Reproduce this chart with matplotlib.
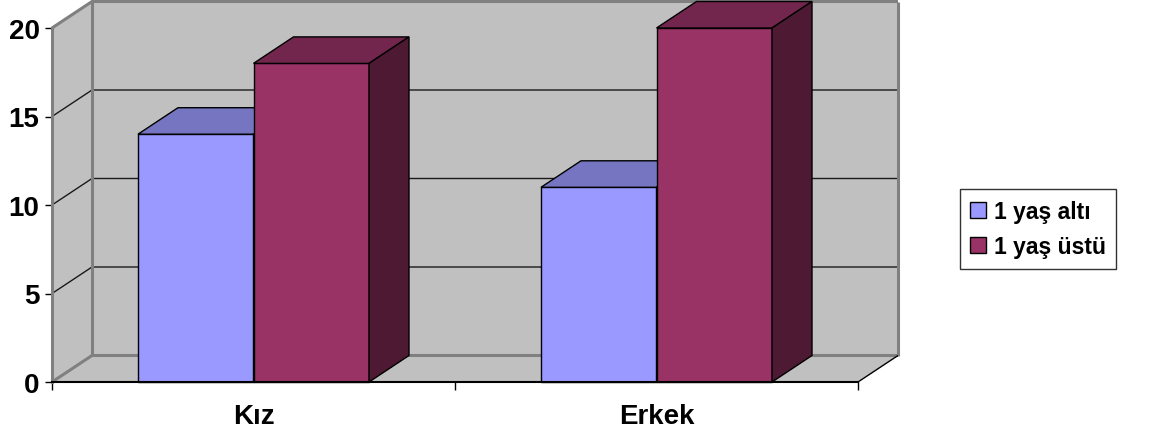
import matplotlib
matplotlib.use("Agg")
import matplotlib.pyplot as plt
from matplotlib.patches import Polygon, Patch

plt.rcParams['font.family'] = ['Liberation Sans', 'DejaVu Sans']
plt.rcParams['font.weight'] = 'bold'

# data
categories = ["Kız", "Erkek"]
series_names = ["1 yaş altı", "1 yaş üstü"]
under_one = [14, 11]
over_one = [18, 20]
y_ticks = [0, 5, 10, 15, 20]

# colours (front, top, side) per series, Excel 2003 style
front_cols = ["#9999FF", "#993366"]
top_cols = ["#7575C2", "#73264D"]
side_cols = ["#4D4D80", "#4D1933"]
wall_col = "#C0C0C0"
edge_gray = "#808080"

W, H = 1157, 435
fig = plt.figure(figsize=(W / 100, H / 100), dpi=100)
# front plane of the 3d box in pixels: x 52..858, y 29..383
ax = fig.add_axes([52 / W, (H - 383) / H, 806 / W, 354 / H])
ax.set_xlim(0, 2)
ax.set_ylim(0, 20)
ax.patch.set_visible(False)

# depth offset in data units (40 px right, 26.5 px up)
dx = 40 / 403
dy = 26.5 / 17.7
ymax = 20

def poly(pts, fc, ec="black", lw=1.0, z=1):
    p = Polygon(pts, closed=True, facecolor=fc, edgecolor=ec, linewidth=lw,
                clip_on=False, zorder=z)
    ax.add_patch(p)

def line(xs, ys, c="black", lw=1.0, z=2):
    ax.plot(xs, ys, color=c, lw=lw, clip_on=False, zorder=z, solid_capstyle="butt")

# walls and floor
poly([(dx, dy), (2 + dx, dy), (2 + dx, ymax + dy), (dx, ymax + dy)], wall_col, ec="none", z=0)
poly([(0, 0), (dx, dy), (dx, ymax + dy), (0, ymax)], wall_col, ec="none", z=0)
poly([(0, 0), (2, 0), (2 + dx, dy), (dx, dy)], wall_col, ec="none", z=0)

# gridlines on side + back wall
for t in y_ticks[1:-1]:
    line([0, dx, 2 + dx], [t, t + dy, t + dy], c="#1a1a1a", lw=1.0, z=1)

# wall borders
line([0, dx, 2 + dx], [ymax, ymax + dy, ymax + dy], c=edge_gray, lw=2.2, z=1)
line([dx, dx], [dy, ymax + dy], c=edge_gray, lw=2.2, z=1)
line([2 + dx, 2 + dx], [dy, ymax + dy], c=edge_gray, lw=2.2, z=1)
line([0, dx, 2 + dx], [0, dy, dy], c=edge_gray, lw=2.2, z=1)
line([2, 2 + dx], [0, dy], c="black", lw=1.0, z=1)

# bars
bar_w = 115.5 / 403
for i, cat in enumerate(categories):
    center = i + 0.5
    for s, vals in enumerate([under_one, over_one]):
        v = vals[i]
        x0 = center - bar_w + s * bar_w
        x1 = x0 + bar_w
        z = 3 + s
        poly([(x0, 0), (x1, 0), (x1, v), (x0, v)], front_cols[s], z=z)
        poly([(x0, v), (x1, v), (x1 + dx, v + dy), (x0 + dx, v + dy)], top_cols[s], z=z)
        poly([(x1, 0), (x1 + dx, dy), (x1 + dx, v + dy), (x1, v)], side_cols[s], z=z)

# axes, ticks, labels
for sp in ["top", "right"]:
    ax.spines[sp].set_visible(False)
ax.spines["left"].set_color(edge_gray)
ax.spines["left"].set_linewidth(2.2)
ax.spines["left"].set_zorder(2)
ax.spines["bottom"].set_color("black")
ax.spines["bottom"].set_linewidth(1.5)
ax.spines["bottom"].set_zorder(6)

ax.set_yticks(y_ticks)
ax.set_yticklabels([str(t) for t in y_ticks])
ax.tick_params(axis="y", direction="out", length=5, width=1, color="black",
               pad=4, labelsize=20)
for lab in ax.get_yticklabels():
    lab.set_fontweight("bold")

ax.set_xticks([0, 1, 2])
ax.set_xticklabels(["", "", ""])
ax.tick_params(axis="x", which="major", direction="out", length=6, width=1, color="black")
ax.set_xticks([0.5, 1.5], minor=True)
ax.set_xticklabels(categories, minor=True)
ax.tick_params(axis="x", which="minor", length=0, pad=15, labelsize=20)
for lab in ax.get_xticklabels(minor=True):
    lab.set_fontweight("bold")

handles = [Patch(facecolor=front_cols[k], edgecolor="black", linewidth=1.0,
                 label=series_names[k]) for k in range(2)]
leg = fig.legend(handles=handles, loc="center left",
                 bbox_to_anchor=(960 / W, 1 - 230 / H),
                 prop={"size": 16.5, "weight": "bold"},
                 frameon=True, fancybox=False, handlelength=0.68, handleheight=0.68,
                 handletextpad=0.35, labelspacing=0.55, borderpad=0.45, borderaxespad=0)
leg.get_frame().set_edgecolor("black")
leg.get_frame().set_linewidth(1.0)

fig.savefig("out.png", dpi=100)
